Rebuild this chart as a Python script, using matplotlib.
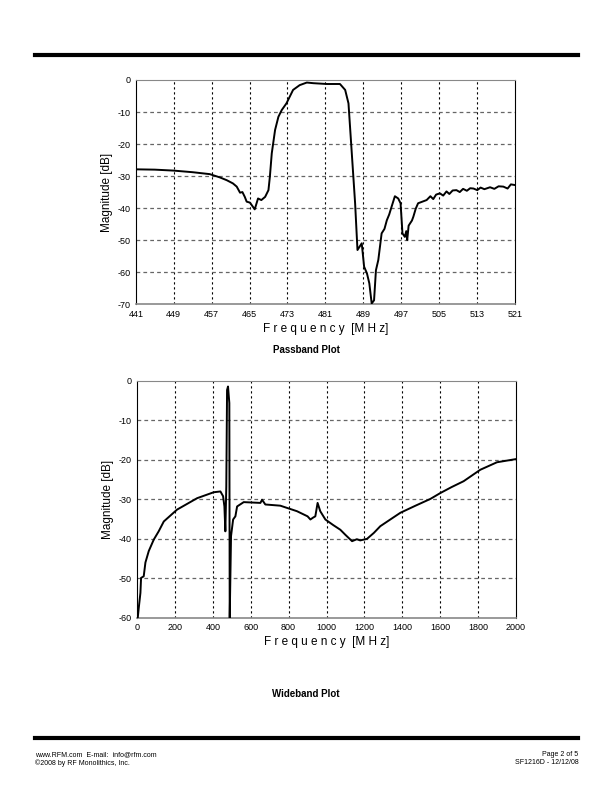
import matplotlib.pyplot as plt
from matplotlib.lines import Line2D

plt.rcParams['font.family'] = ['Liberation Sans', 'DejaVu Sans']
plt.rcParams['axes.unicode_minus'] = False

# passband sweep (MHz, dB)
pb_freq = [441, 445, 449, 453, 456.6, 458.7, 460.2, 461.5, 462.3, 463, 463.5, 464, 464.4,
           465.1, 466.1, 466.8, 467.5, 468.3, 469, 469.3, 469.7, 470.4, 471.1, 471.8,
           472.8, 474.2, 475.6, 477.1, 478.5, 481.3, 484.1, 485.2, 485.9, 486.6, 487.3,
           487.8, 488.7, 489.2, 489.8, 490.3, 490.8, 491.3, 491.7, 492.2, 492.9, 493.5,
           494, 494.5, 495, 495.7, 496.4, 496.9, 497.3, 497.8, 498.1, 498.3, 498.6, 498.9,
           499.3, 499.6, 500.1, 500.6, 501.5, 502.4, 503.2, 503.8, 504.4, 505.2, 505.9,
           506.6, 507.2, 507.9, 508.7, 509.4, 510.1, 510.9, 511.6, 512.3, 513.1, 513.8,
           514.6, 515.8, 516.7, 517.6, 518.6, 519.5, 520.2, 521]
pb_mag = [-27.9, -28.0, -28.3, -28.8, -29.4, -30.4, -31.3, -32.3, -33.3, -35.2, -35.0, -36.5, -38.0,
          -38.3, -40.4, -37.0, -37.5, -36.5, -34.4, -30.2, -22.9, -15.6, -11.5, -9.4,
          -7.3, -3.1, -1.6, -0.8, -1.0, -1.25, -1.25, -3.1, -7.3, -22.9, -38.5,
          -53.1, -51.0, -58.3, -60.4, -63.5, -69.8, -68.8, -59.4, -56.2, -47.9, -46.5,
          -43.8, -42.0, -39.6, -36.3, -37.0, -38.5, -47.9, -49.0, -47.2, -50.0, -45.5, -44.8,
          -43.9, -42.7, -40.2, -38.5, -38.0, -37.5, -36.3, -37.2, -35.8, -35.4, -36.1,
          -34.8, -35.6, -34.5, -34.4, -35.0, -34.0, -34.6, -33.8, -33.9, -34.4, -33.6,
          -34.1, -33.5, -34.0, -33.2, -33.3, -33.9, -32.6, -32.8]

# wideband sweep (MHz, dB)
wb_freq = [3.5, 8.8, 17.6, 21, 35, 44, 61.6, 88, 114, 141, 211, 317, 404.6, 440, 454, 461,
           466, 471, 475, 480, 487, 489, 496, 507, 519, 528, 563, 651, 660, 677, 756,
           844, 900, 915, 930, 941, 953, 967, 994, 1035, 1073, 1100, 1135, 1160, 1178,
           1214, 1250, 1284, 1340, 1390, 1470, 1548, 1601, 1660, 1724, 1812, 1900, 2000]
wb_mag = [-60, -57.5, -53.7, -49.9, -49.5, -46, -43.1, -40.2, -38.1, -35.6, -32.6, -29.7,
          -28.2, -28.0, -29.2, -31.8, -38.1, -26.7, -2.3, -1.4, -5.6, -60, -39.3, -35.1,
          -34.3, -31.8, -30.7, -30.9, -30.1, -31.3, -31.6, -33.0, -34.3, -35.1, -34.6, -34.3,
          -30.9, -33.0, -35.1, -36.5, -37.7, -39.0, -40.6, -40.1, -40.4, -40.0, -38.5,
          -36.8, -35.0, -33.4, -31.6, -29.9, -28.4, -26.9, -25.4, -22.5, -20.6, -19.8]

fig = plt.figure(figsize=(6.12, 7.92), dpi=100)

def style(ax, xt, yt, xlim, ylim):
    ax.set_xlim(xlim)
    ax.set_ylim(ylim)
    ax.set_xticks(xt)
    ax.set_yticks(yt)
    ax.tick_params(labelsize=6.5, length=0, pad=4)
    for x in xt[1:-1]:
        ax.axvline(x, color='black', lw=0.8, ls=(0, (2, 2.5)), zorder=1)
    for y in yt[1:-1]:
        ax.axhline(y, color='#666666', lw=0.9, ls=(0, (3, 2.5)), zorder=1)
    ax.spines['top'].set_color('#888888')
    ax.spines['bottom'].set_color('#888888')
    ax.spines['bottom'].set_linewidth(1.2)
    ax.spines['left'].set_color('black')
    ax.spines['right'].set_color('black')
    ax.set_xlabel('F r e q u e n c y  [M H z]', fontsize=8.5, labelpad=3)
    ax.set_ylabel('Magnitude [dB]', fontsize=8.5, labelpad=3)

ax1 = fig.add_axes([0.222, 0.616, 0.619, 0.283])
style(ax1, list(range(441, 522, 8)), list(range(-70, 1, 10)), (441, 521), (-70, 0))
ax1.plot(pb_freq, pb_mag, color='black', lw=1.4, zorder=3)
fig.text(0.5, 0.554, 'Passband Plot', ha='center', fontsize=7, fontweight='bold')

ax2 = fig.add_axes([0.224, 0.220, 0.619, 0.299])
style(ax2, list(range(0, 2001, 200)), list(range(-60, 1, 10)), (0, 2000), (-60, 0))
ax2.plot(wb_freq, wb_mag, color='black', lw=1.4, zorder=3)
fig.text(0.5, 0.120, 'Wideband Plot', ha='center', fontsize=7, fontweight='bold')

# page rules and footer
fig.add_artist(Line2D([0.057, 0.945], [0.931, 0.931], color='black', lw=3))
fig.add_artist(Line2D([0.057, 0.945], [0.068, 0.068], color='black', lw=3))
fig.text(0.057, 0.052, 'www.RFM.com  E-mail:  info@rfm.com\n\u00a92008 by RF Monolithics, Inc.',
         fontsize=5, va='top', linespacing=1.2)
fig.text(0.945, 0.052, 'Page 2 of 5\nSF1216D - 12/12/08', fontsize=5, va='top', ha='right',
         linespacing=1.2)

fig.savefig('out.png', dpi=100)
